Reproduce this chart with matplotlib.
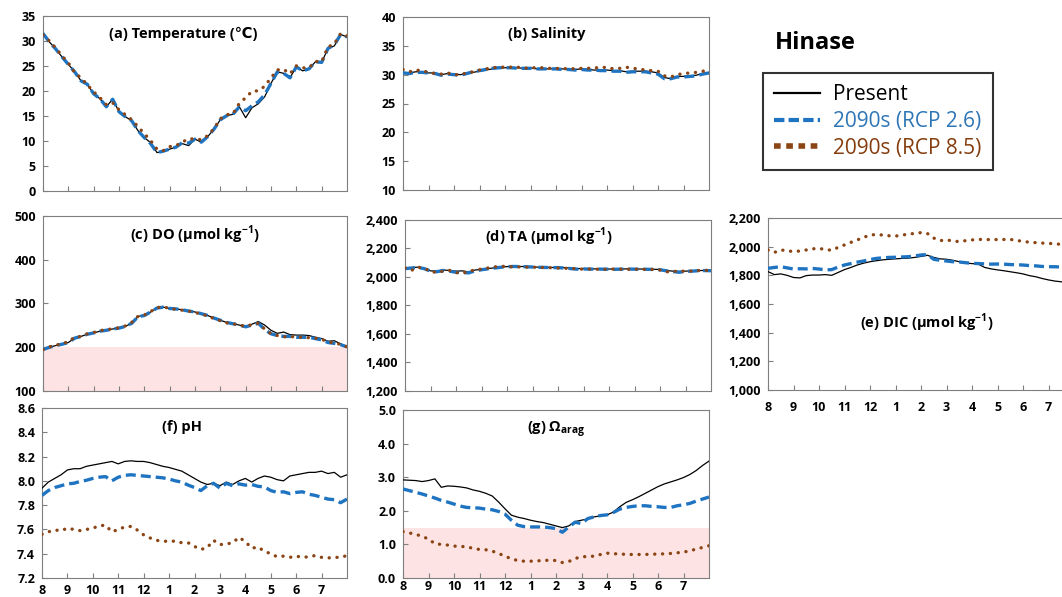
import numpy as np
import matplotlib
matplotlib.use("Agg")
import matplotlib.pyplot as plt
from matplotlib.lines import Line2D

plt.rcParams['font.family'] = ['Open Sans', 'DejaVu Sans']
plt.rcParams['mathtext.fontset'] = 'custom'
plt.rcParams['mathtext.rm'] = 'Open Sans'
plt.rcParams['mathtext.bf'] = 'Open Sans:bold'

# quarter-month steps starting 1 August
months = np.linspace(0, 12, 49)
month_labels = ['8', '9', '10', '11', '12', '1', '2', '3', '4', '5', '6', '7']

temp_present = [31.5, 29.8, 28.4, 26.8, 25.3, 23.8, 22.0, 21.3, 19.4, 18.4, 16.8, 18.3, 15.8,
                14.8, 14.0, 12.0, 10.6, 9.6, 7.6, 7.9, 8.3, 8.7, 9.4, 9.0, 10.3, 9.7, 10.8,
                12.3, 14.2, 15.0, 15.3, 16.8, 14.6, 16.6, 17.4, 18.8, 21.5, 23.8, 23.5, 22.6,
                24.8, 24.0, 24.4, 25.8, 25.7, 28.5, 29.0, 31.3, 30.8]
temp_rcp26 = [31.5, 29.8, 28.4, 26.8, 25.3, 23.8, 22.0, 21.3, 19.4, 18.4, 16.8, 18.3, 15.8,
              14.8, 14.0, 12.0, 10.6, 9.4, 7.6, 7.9, 8.3, 8.7, 9.6, 9.5, 10.3, 9.7, 10.8,
              12.3, 14.2, 15.0, 15.3, 16.8, 16.0, 17.0, 17.8, 19.2, 21.5, 23.8, 23.5, 22.6,
              24.8, 24.0, 24.4, 25.8, 25.7, 28.5, 29.2, 31.3, 30.8]
temp_rcp85 = [31.2, 30.0, 28.6, 27.0, 25.6, 23.6, 22.6, 21.2, 19.8, 18.6, 17.2, 17.6, 16.2,
              15.2, 14.2, 12.8, 11.4, 10.0, 8.3, 8.0, 8.8, 9.0, 9.7, 10.4, 10.3, 10.2, 11.0,
              12.4, 14.4, 15.2, 15.4, 17.5, 18.6, 19.9, 20.0, 20.9, 22.6, 24.2, 24.3, 23.4,
              25.0, 24.6, 24.6, 25.9, 25.8, 28.8, 29.4, 31.5, 31.0]

sal_present = [30.4, 30.3, 30.5, 30.5, 30.3, 30.3, 30.0, 30.2, 30.1, 30.0, 30.2, 30.4, 30.6,
               30.8, 31.0, 31.1, 31.2, 31.2, 31.2, 31.1, 31.2, 31.0, 31.0, 31.0, 31.1, 31.0,
               30.9, 30.9, 31.0, 30.9, 30.8, 30.8, 30.8, 30.7, 30.7, 30.5, 30.6, 30.6, 30.6,
               30.5, 30.3, 29.5, 29.3, 29.7, 29.7, 29.8, 29.9, 30.2, 30.4]
sal_rcp26 = [30.3, 30.2, 30.4, 30.4, 30.3, 30.2, 29.9, 30.1, 30.0, 29.9, 30.2, 30.5, 30.7,
             30.9, 31.1, 31.2, 31.2, 31.2, 31.1, 31.1, 31.1, 31.0, 31.0, 31.0, 31.0, 30.9,
             30.9, 30.8, 30.9, 30.8, 30.8, 30.7, 30.7, 30.6, 30.6, 30.4, 30.5, 30.5, 30.5,
             30.3, 30.1, 29.3, 29.3, 29.6, 29.6, 29.7, 29.8, 30.1, 30.3]
sal_rcp85 = [30.9, 30.5, 30.8, 30.7, 30.4, 30.2, 30.1, 30.3, 30.0, 30.0, 30.3, 30.5, 30.8,
             31.0, 31.2, 31.3, 31.3, 31.3, 31.3, 31.1, 31.2, 31.2, 31.2, 31.1, 31.1, 31.0,
             31.1, 31.0, 31.1, 31.1, 31.2, 31.2, 31.3, 31.0, 31.1, 31.3, 31.1, 31.0, 30.8,
             30.7, 30.6, 29.8, 29.6, 30.0, 30.2, 30.3, 30.4, 30.6, 30.8]

do_present = [194, 199, 203, 206, 210, 220, 224, 229, 232, 236, 238, 241, 243, 247, 254, 270,
              272, 280, 289, 291, 288, 287, 285, 282, 280, 276, 272, 266, 261, 256, 253, 250,
              246, 252, 258, 250, 238, 231, 234, 228, 227, 227, 226, 222, 219, 213, 214, 207, 200]
do_rcp26 = [194, 199, 203, 206, 210, 220, 224, 229, 232, 236, 238, 241, 243, 247, 254, 269,
            272, 280, 289, 291, 288, 287, 285, 282, 280, 276, 272, 266, 261, 256, 253, 250,
            246, 250, 254, 240, 230, 226, 224, 224, 222, 222, 222, 219, 216, 210, 208, 205, 200]
do_rcp85 = [194, 200, 204, 207, 212, 222, 224, 230, 233, 237, 240, 241, 244, 248, 256, 270,
            273, 281, 290, 292, 288, 286, 284, 282, 279, 275, 271, 265, 260, 255, 253, 250,
            247, 251, 254, 241, 230, 226, 223, 224, 222, 222, 221, 220, 217, 212, 208, 206, 200]

ta_present = [2060, 2065, 2068, 2060, 2042, 2040, 2048, 2045, 2040, 2042, 2035, 2048, 2052,
              2058, 2063, 2068, 2072, 2074, 2073, 2072, 2070, 2068, 2067, 2066, 2066, 2065,
              2062, 2058, 2058, 2056, 2056, 2055, 2055, 2054, 2055, 2056, 2055, 2055, 2054,
              2053, 2052, 2045, 2040, 2038, 2040, 2042, 2044, 2045, 2044]
ta_rcp26 = [2058, 2062, 2066, 2058, 2040, 2036, 2045, 2040, 2032, 2030, 2028, 2042, 2050,
            2056, 2062, 2067, 2071, 2073, 2072, 2071, 2069, 2067, 2066, 2065, 2065, 2062,
            2058, 2054, 2056, 2054, 2055, 2054, 2054, 2053, 2054, 2055, 2054, 2054, 2053,
            2052, 2050, 2042, 2038, 2032, 2038, 2040, 2043, 2044, 2043]
ta_rcp85 = [2062, 2045, 2068, 2062, 2038, 2030, 2040, 2045, 2030, 2025, 2040, 2048, 2055,
            2062, 2070, 2075, 2072, 2070, 2070, 2068, 2068, 2066, 2066, 2064, 2062, 2060,
            2060, 2056, 2054, 2055, 2054, 2052, 2054, 2055, 2054, 2053, 2054, 2052, 2053,
            2052, 2048, 2035, 2040, 2036, 2042, 2040, 2044, 2046, 2044]

dic_present = [1826, 1805, 1810, 1800, 1785, 1782, 1798, 1802, 1802, 1805, 1800, 1820, 1840,
               1855, 1872, 1885, 1895, 1902, 1908, 1912, 1915, 1918, 1920, 1925, 1932, 1940,
               1925, 1915, 1912, 1905, 1895, 1885, 1882, 1878, 1855, 1845, 1838, 1832, 1825,
               1818, 1810, 1798, 1790, 1778, 1768, 1760, 1755, 1750, 1745]
dic_rcp26 = [1849, 1855, 1860, 1852, 1844, 1846, 1845, 1848, 1844, 1838, 1840, 1858, 1872,
             1882, 1892, 1900, 1910, 1918, 1922, 1925, 1926, 1928, 1930, 1935, 1942, 1945,
             1912, 1905, 1900, 1895, 1893, 1888, 1884, 1882, 1880, 1878, 1879, 1878, 1875,
             1874, 1872, 1868, 1866, 1862, 1860, 1860, 1858, 1856, 1855]
dic_rcp85 = [1977, 1960, 1977, 1972, 1965, 1970, 1977, 1985, 1988, 1980, 1975, 1995, 2012,
             2030, 2047, 2065, 2081, 2085, 2081, 2076, 2074, 2080, 2088, 2092, 2098, 2092,
             2060, 2042, 2047, 2040, 2035, 2042, 2047, 2050, 2051, 2048, 2050, 2050, 2050,
             2045, 2035, 2032, 2028, 2025, 2023, 2020, 2016, 2012, 2010]

ph_present = [7.94, 7.99, 8.02, 8.05, 8.09, 8.10, 8.10, 8.12, 8.13, 8.14, 8.15, 8.16, 8.14,
              8.16, 8.165, 8.16, 8.16, 8.15, 8.135, 8.12, 8.11, 8.095, 8.08, 8.05, 8.02, 7.99,
              7.97, 7.98, 7.96, 7.99, 7.97, 8.00, 8.02, 7.99, 8.02, 8.04, 8.03, 8.01, 8.00,
              8.04, 8.05, 8.06, 8.07, 8.07, 8.08, 8.06, 8.07, 8.03, 8.05]
ph_rcp26 = [7.88, 7.92, 7.945, 7.96, 7.975, 7.98, 7.995, 8.005, 8.02, 8.03, 8.035, 8.00, 8.03,
            8.045, 8.05, 8.045, 8.04, 8.035, 8.03, 8.025, 8.015, 8.00, 7.99, 7.965, 7.945,
            7.92, 7.96, 7.98, 7.94, 7.98, 7.96, 7.975, 7.965, 7.97, 7.955, 7.95, 7.92, 7.905,
            7.91, 7.895, 7.905, 7.91, 7.89, 7.88, 7.865, 7.85, 7.845, 7.82, 7.85]
ph_rcp85 = [7.56, 7.58, 7.595, 7.59, 7.61, 7.60, 7.59, 7.60, 7.61, 7.63, 7.635, 7.58, 7.60,
            7.62, 7.625, 7.595, 7.555, 7.53, 7.51, 7.505, 7.50, 7.505, 7.49, 7.49, 7.46,
            7.435, 7.45, 7.51, 7.475, 7.48, 7.49, 7.535, 7.50, 7.445, 7.455, 7.42, 7.40,
            7.375, 7.38, 7.37, 7.38, 7.37, 7.375, 7.385, 7.37, 7.365, 7.37, 7.37, 7.385]

om_present = [2.92, 2.91, 2.90, 2.87, 2.90, 2.95, 2.70, 2.74, 2.73, 2.71, 2.68, 2.62, 2.58,
              2.52, 2.44, 2.26, 2.06, 1.87, 1.81, 1.77, 1.72, 1.68, 1.65, 1.60, 1.55, 1.50,
              1.55, 1.68, 1.72, 1.76, 1.82, 1.85, 1.88, 1.96, 2.12, 2.25, 2.33, 2.42, 2.52,
              2.62, 2.72, 2.80, 2.86, 2.92, 2.99, 3.08, 3.20, 3.35, 3.48]
om_rcp26 = [2.65, 2.60, 2.55, 2.50, 2.44, 2.38, 2.31, 2.26, 2.20, 2.14, 2.10, 2.09, 2.08,
            2.05, 2.03, 1.98, 1.90, 1.72, 1.57, 1.53, 1.52, 1.52, 1.52, 1.50, 1.47, 1.36,
            1.52, 1.66, 1.62, 1.77, 1.82, 1.86, 1.88, 1.95, 2.05, 2.10, 2.13, 2.15, 2.15,
            2.13, 2.12, 2.10, 2.10, 2.15, 2.18, 2.22, 2.29, 2.35, 2.41]
om_rcp85 = [1.38, 1.34, 1.30, 1.24, 1.16, 1.02, 1.00, 0.98, 0.95, 0.94, 0.93, 0.88, 0.85,
            0.84, 0.80, 0.73, 0.65, 0.57, 0.52, 0.50, 0.50, 0.51, 0.52, 0.53, 0.52, 0.46,
            0.49, 0.58, 0.63, 0.64, 0.65, 0.70, 0.74, 0.72, 0.72, 0.70, 0.70, 0.70, 0.70,
            0.71, 0.71, 0.72, 0.73, 0.75, 0.77, 0.81, 0.86, 0.91, 0.96]

BLUE = '#1f74c2'
BROWN = '#8b4414'
SHADE = '#fde3e3'
SPINE = '#7f7f7f'

W, H = 1062, 597
fig = plt.figure(figsize=(W / 100, H / 100), dpi=100)


def box(l, t, r, b):
    return [l / W, 1 - b / H, (r - l) / W, (b - t) / H]


def panel(rect, present, rcp26, rcp85, ylim, step, fmt, title, tpos,
          shade=None, xlabels=False, xpad=4):
    ax = fig.add_axes(box(*rect))
    if shade is not None:
        ax.axhspan(ylim[0], shade, color=SHADE, lw=0, zorder=0)
    ax.plot(months, present, color='black', lw=0.9, zorder=3)
    ax.plot(months, rcp26, color=BLUE, lw=2.4, dashes=(3, 1.5), zorder=4)
    ax.plot(months, rcp85, color=BROWN, lw=2.4, linestyle=(0, (0.05, 2.3)),
            dash_capstyle='round', zorder=5)
    ax.set_xlim(0, 12)
    ax.set_ylim(*ylim)
    yt = np.arange(ylim[0], ylim[1] + step / 2, step)
    ax.set_yticks(yt, labels=[fmt.format(v) for v in yt], fontweight='bold', fontsize=9)
    if xlabels:
        ax.set_xticks(range(12), labels=month_labels, fontweight='bold', fontsize=9)
    else:
        ax.set_xticks(range(12), labels=[])
    ax.tick_params(direction='in', length=3.5, width=0.8, color=SPINE)
    ax.tick_params(axis='y', pad=5)
    ax.tick_params(axis='x', pad=xpad)
    for s in ax.spines.values():
        s.set_color(SPINE)
        s.set_linewidth(0.8)
    ax.text(tpos[0], tpos[1], title, transform=ax.transAxes, ha='center', va='center',
            fontsize=10.5, fontweight='bold')
    return ax


panel((43, 16, 347, 190.5), temp_present, temp_rcp26, temp_rcp85, (0, 35), 5, '{:.0f}',
      '(a) Temperature (℃)', (0.46, 0.90))
panel((403, 17, 709, 190), sal_present, sal_rcp26, sal_rcp85, (10, 40), 5, '{:.0f}',
      '(b) Salinity', (0.47, 0.90))
panel((43, 216, 347, 390.5), do_present, do_rcp26, do_rcp85, (100, 500), 100, '{:.0f}',
      r'(c) DO (μmol kg$^{\mathbf{-1}}$)', (0.50, 0.89), shade=200)
panel((405, 220, 711, 390.5), ta_present, ta_rcp26, ta_rcp85, (1200, 2400), 200, '{:,.0f}',
      r'(d) TA (μmol kg$^{\mathbf{-1}}$)', (0.47, 0.90))
panel((768, 218, 1074, 390), dic_present, dic_rcp26, dic_rcp85, (1000, 2200), 200, '{:,.0f}',
      r'(e) DIC (μmol kg$^{\mathbf{-1}}$)', (0.52, 0.39), xlabels=True, xpad=8)
panel((42, 408, 347, 578), ph_present, ph_rcp26, ph_rcp85, (7.2, 8.6), 0.2, '{:.1f}',
      '(f) pH', (0.46, 0.89), xlabels=True, xpad=4.5)
panel((403, 410, 709, 578), om_present, om_rcp26, om_rcp85, (0, 5), 1, '{:.1f}',
      r'(g) Ω$_{\mathbf{arag}}$', (0.50, 0.88), shade=1.5, xlabels=True, xpad=1.5)

fig.text(775 / W, 1 - 43 / H, 'Hinase', fontsize=17, fontweight='bold', va='center', ha='left')

handles = [Line2D([], [], color='black', lw=1.6),
           Line2D([], [], color=BLUE, lw=3, dashes=(2.5, 1)),
           Line2D([], [], color=BROWN, lw=4, dashes=(1.2, 1.0))]
leg = fig.legend(handles, ['Present', '2090s (RCP 2.6)', '2090s (RCP 8.5)'],
                 loc='upper left', bbox_to_anchor=(763 / W, 1 - 73 / H), fontsize=15,
                 frameon=True, fancybox=False, edgecolor='black', handlelength=2.2,
                 labelcolor=['black', '#2e75b6', '#843c0c'], borderpad=0.55,
                 labelspacing=0.27, handletextpad=0.6, borderaxespad=0)
leg.get_frame().set_linewidth(1.5)

fig.savefig('out.png', dpi=100)
